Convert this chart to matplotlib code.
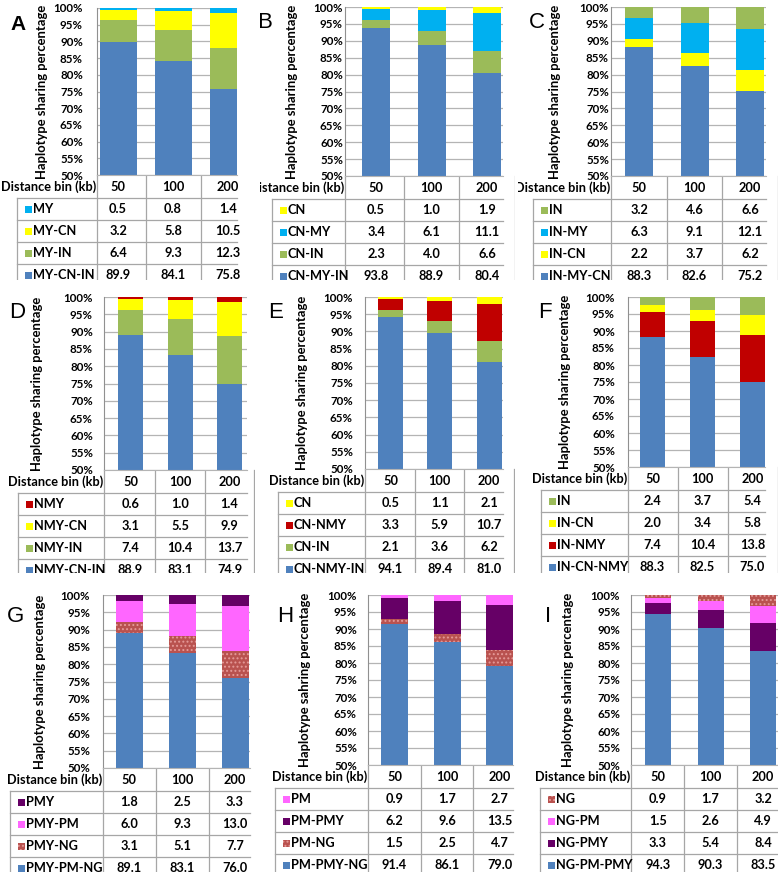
import numpy as np
import matplotlib
matplotlib.use('Agg')
import matplotlib.pyplot as plt
from matplotlib.patches import Rectangle
from matplotlib.transforms import blended_transform_factory

plt.rcParams['font.family'] = ['Lato', 'DejaVu Sans']
plt.rcParams['hatch.linewidth'] = 0.9

W, H = 778, 877

# Excel-ish colours
blue = '#4f81bd'
green = '#9bbb59'
yellow = '#ffff00'
cyan = '#00b0f0'
red = '#c00000'
pink = '#ff66ff'
purple = '#660066'
ng = '#b9524f'

bins = ['50', '100', '200']

# rows listed top-to-bottom as in each data table
a_names = ['MY', 'MY-CN', 'MY-IN', 'MY-CN-IN']
a_vals = [[0.5, 0.8, 1.4], [3.2, 5.8, 10.5], [6.4, 9.3, 12.3], [89.9, 84.1, 75.8]]
b_names = ['CN', 'CN-MY', 'CN-IN', 'CN-MY-IN']
b_vals = [[0.5, 1.0, 1.9], [3.4, 6.1, 11.1], [2.3, 4.0, 6.6], [93.8, 88.9, 80.4]]
c_names = ['IN', 'IN-MY', 'IN-CN', 'IN-MY-CN']
c_vals = [[3.2, 4.6, 6.6], [6.3, 9.1, 12.1], [2.2, 3.7, 6.2], [88.3, 82.6, 75.2]]
d_names = ['NMY', 'NMY-CN', 'NMY-IN', 'NMY-CN-IN']
d_vals = [[0.6, 1.0, 1.4], [3.1, 5.5, 9.9], [7.4, 10.4, 13.7], [88.9, 83.1, 74.9]]
e_names = ['CN', 'CN-NMY', 'CN-IN', 'CN-NMY-IN']
e_vals = [[0.5, 1.1, 2.1], [3.3, 5.9, 10.7], [2.1, 3.6, 6.2], [94.1, 89.4, 81.0]]
f_names = ['IN', 'IN-CN', 'IN-NMY', 'IN-CN-NMY']
f_vals = [[2.4, 3.7, 5.4], [2.0, 3.4, 5.8], [7.4, 10.4, 13.8], [88.3, 82.5, 75.0]]
g_names = ['PMY', 'PMY-PM', 'PMY-NG', 'PMY-PM-NG']
g_vals = [[1.8, 2.5, 3.3], [6.0, 9.3, 13.0], [3.1, 5.1, 7.7], [89.1, 83.1, 76.0]]
h_names = ['PM', 'PM-PMY', 'PM-NG', 'PM-PMY-NG']
h_vals = [[0.9, 1.7, 2.7], [6.2, 9.6, 13.5], [1.5, 2.5, 4.7], [91.4, 86.1, 79.0]]
i_names = ['NG', 'NG-PM', 'NG-PMY', 'NG-PM-PMY']
i_vals = [[0.9, 1.7, 3.2], [1.5, 2.6, 4.9], [3.3, 5.4, 8.4], [94.3, 90.3, 83.5]]

ylab = 'Haplotype sharing percentage'

panels = [
    ('A', a_names, a_vals, [cyan, yellow, green, blue], ylab),
    ('B', b_names, b_vals, [yellow, cyan, green, blue], ylab),
    ('C', c_names, c_vals, [green, cyan, yellow, blue], ylab),
    ('D', d_names, d_vals, [red, yellow, green, blue], ylab),
    ('E', e_names, e_vals, [yellow, red, green, blue], ylab),
    ('F', f_names, f_vals, [green, yellow, red, blue], ylab),
    ('G', g_names, g_vals, [purple, pink, ng, blue], ylab),
    ('H', h_names, h_vals, [pink, purple, ng, blue], 'Haplotype sahring percentage'),
    ('I', i_names, i_vals, [ng, pink, purple, blue], ylab),
]

# pixel layout: crop box, plot L/R/T/B, first bar centre, bar spacing, bar width,
# table left, tick pad, ylabel x, letter x/y
layout = [
    dict(crop=(0, 0, 240, 280), L=97, R=237, T=8, B=175, c0=118, s=55, w=37, tl=17, pad=14, ylx=42, lx=18, ly=25),
    dict(crop=(260, 0, 515, 280), L=345, R=503, T=7, B=176, c0=376, s=55.5, w=28, tl=272, pad=2, ylx=292, lx=265, ly=23),
    dict(crop=(518, 0, 778, 280), L=611, R=766, T=7, B=176, c0=639, s=55.5, w=28, tl=533, pad=2, ylx=555, lx=537, ly=23),
    dict(crop=(0, 290, 255, 573), L=104, R=247, T=297, B=470, c0=130.5, s=49.5, w=25, tl=18, pad=11, ylx=37, lx=17, ly=312),
    dict(crop=(260, 290, 515, 573), L=365, R=503, T=297, B=469, c0=390.5, s=49.3, w=25, tl=278, pad=12, ylx=302, lx=276, ly=313),
    dict(crop=(518, 290, 778, 573), L=628, R=765, T=297, B=467, c0=652.5, s=50, w=25, tl=541, pad=13, ylx=565, lx=545, ly=313),
    dict(crop=(0, 580, 255, 872), L=103, R=250, T=595, B=768, c0=129, s=53, w=27, tl=10, pad=13, ylx=40, lx=16, ly=617),
    dict(crop=(260, 580, 518, 872), L=368, R=513, T=595, B=765, c0=394.5, s=52.5, w=27, tl=275, pad=11, ylx=305, lx=285, ly=617),
    dict(crop=(518, 580, 778, 872), L=631, R=778, T=595, B=765, c0=658, s=52.5, w=26, tl=540, pad=11, ylx=568, lx=548, ly=617),
]

grid_c = '#b4b4b4'
line_c = '#a6a6a6'
fs = 9.2

fig = plt.figure(figsize=(W / 100, H / 100), dpi=100)

for (letter, names, vals, colors, ylabel), g in zip(panels, layout):
    x0, y0, x1, y1 = g['crop']
    L, R, T, B = g['L'], g['R'], g['T'], g['B']
    c0, s, w = g['c0'], g['s'], g['w']

    # panel canvas in pixel coords (used for table, labels, clipping)
    pax = fig.add_axes([x0 / W, 1 - y1 / H, (x1 - x0) / W, (y1 - y0) / H])
    pax.set_xlim(x0, x1)
    pax.set_ylim(y1, y0)
    pax.axis('off')

    # stacked bars
    ax = fig.add_axes([L / W, 1 - B / H, (R - L) / W, (B - T) / H])
    x = np.arange(len(bins))
    cum = np.zeros(len(bins))
    for k in reversed(range(len(names))):
        v = np.array(vals[k])
        if colors[k] == ng:
            ax.bar(x, v, w / s, bottom=cum, facecolor=ng, edgecolor='#e59a98',
                   hatch='....', linewidth=0, zorder=2)
        else:
            ax.bar(x, v, w / s, bottom=cum, color=colors[k], linewidth=0, zorder=2)
        cum += v
    ax.set_xlim((L - c0) / s, (R - c0) / s)
    ax.set_ylim(50, 100)
    ax.set_yticks(np.arange(50, 101, 5))
    ax.set_yticklabels([f'{t}%' for t in range(50, 101, 5)], fontsize=8.3, fontweight='bold')
    ax.tick_params(axis='y', length=0, pad=g['pad'] * 0.72)
    ax.set_xticks([])
    ax.yaxis.grid(True, color=grid_c, linewidth=0.9, zorder=0)
    ax.set_axisbelow(True)
    for sp in ['top', 'right']:
        ax.spines[sp].set_visible(False)
    ax.spines['left'].set_color('#909090')
    ax.spines['bottom'].set_color(grid_c)

    # data table under the chart
    tr = blended_transform_factory(ax.transData, pax.transData)
    tkw = dict(fontsize=fs, fontweight='bold', va='center', clip_on=True)
    pax.text(L - 1, B + 12, 'Distance bin (kb)', ha='right', **tkw)
    for i, b in enumerate(bins):
        pax.text(i, B + 12, b, transform=tr, ha='center', **tkw)
    for k, name in enumerate(names):
        yc = B + 34 + 22 * k
        if colors[k] == ng:
            sw = Rectangle((g['tl'] + 7.5, yc - 3.5), 7, 7, facecolor=ng,
                           edgecolor='#e59a98', hatch='....', linewidth=0)
        else:
            sw = Rectangle((g['tl'] + 7.5, yc - 3.5), 7, 7, facecolor=colors[k],
                           edgecolor='none')
        pax.add_patch(sw)
        pax.text(g['tl'] + 16, yc, name, ha='left', **tkw)
        for i in range(len(bins)):
            pax.text(i, yc, f'{vals[k][i]:.1f}', transform=tr, ha='center', **tkw)
    for k in range(5):
        yl = B + 23 + 22 * k
        pax.plot([g['tl'], R], [yl, yl], color=line_c, lw=0.9)
    pax.plot([L, L], [B, y1], color=line_c, lw=0.9)
    pax.plot([g['tl'], g['tl']], [B + 23, y1], color=line_c, lw=0.9)
    for i in range(len(bins)):
        pax.plot([i + 0.5, i + 0.5], [B, y1], transform=tr, color=line_c, lw=0.9)

    # y label and panel letter
    pax.text(g['ylx'], (T + B) / 2, ylabel, rotation=90, ha='center', va='center',
             fontsize=9.4, fontweight='bold', clip_on=True)
    if letter == 'A':
        pax.text(g['lx'], g['ly'], letter, ha='center', va='center', fontsize=15,
                 fontweight='bold', family='Liberation Sans', clip_on=True)
    else:
        pax.text(g['lx'], g['ly'], letter, ha='center', va='center', fontsize=16,
                 family='Liberation Sans', clip_on=True)

fig.savefig('out.png', dpi=100)
